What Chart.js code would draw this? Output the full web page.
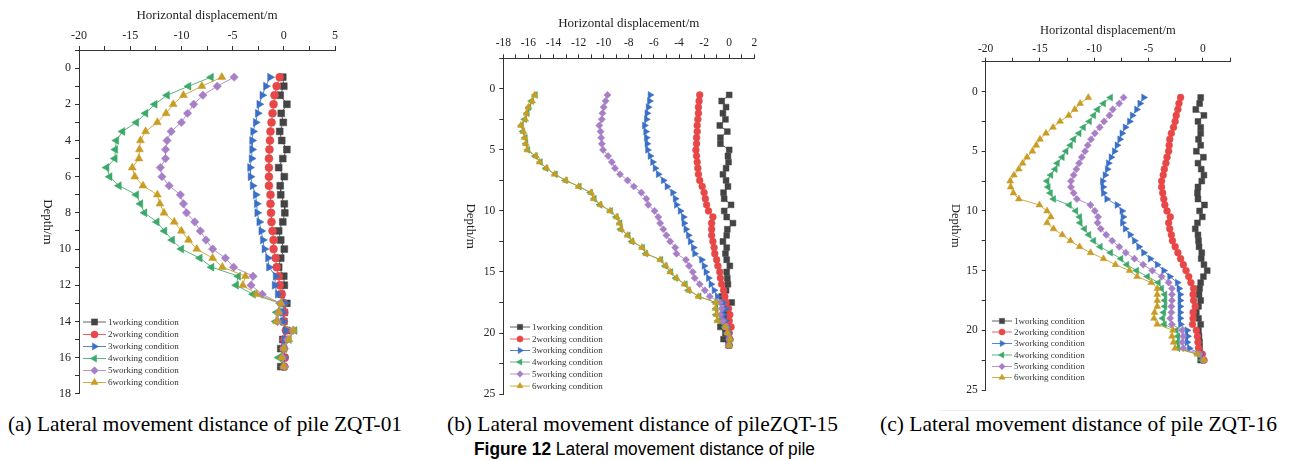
<!DOCTYPE html>
<html><head><meta charset="utf-8">
<script src="https://cdn.jsdelivr.net/npm/chart.js@4.4.1/dist/chart.umd.min.js"></script>
<style>
html,body{margin:0;padding:0;background:#fff;}
body{width:1290px;height:461px;overflow:hidden;position:relative;}
canvas{position:absolute;top:0;}
.cap{position:absolute;white-space:nowrap;transform-origin:0 50%;color:#000;}
.serif{font-family:"Liberation Serif","Times New Roman",serif;font-size:22px;line-height:22px;}
.sans{font-family:"Liberation Sans Narrow","Liberation Sans",Arial,sans-serif;font-size:18px;line-height:18px;}
</style></head><body>
<canvas id="ca" width="430" height="405" style="left:0px"></canvas>
<canvas id="cb" width="430" height="405" style="left:430px"></canvas>
<canvas id="cc" width="430" height="405" style="left:860px"></canvas>
<div style="position:absolute;left:940px;top:410px;width:303px;height:1px;background:#ececf0"></div>
<span class="cap serif" id="capA" style="left:8px;top:413px">(a) Lateral movement distance of pile ZQT-01</span>
<span class="cap serif" id="capB" style="left:447px;top:413px">(b) Lateral movement distance of pileZQT-15</span>
<span class="cap serif" id="capC" style="left:880px;top:413px">(c) Lateral movement distance of pile ZQT-16</span>
<span class="cap sans" id="capF" style="left:474px;top:440px"><b>Figure 12</b> Lateral movement distance of pile</span>
<script>
// ---------- data ----------
const seriesNames = ['1working condition','2working condition','3working condition','4working condition','5working condition','6working condition'];
const xTitle = 'Horizontal displacement/m';
const yTitle = 'Depth/m';

const depthA = [0.5,1,1.5,2,2.5,3,3.5,4,4.5,5,5.5,6,6.5,7,7.5,8,8.5,9,9.5,10,10.5,11,11.5,12,12.5,13,13.5,14,14.5,15,15.5,16,16.5];
const a1 = [-0.1,0,-0.35,0.3,-0.25,-0.05,-0.4,-0.2,0.3,-0.1,-0.5,0.05,-0.35,-0.3,0.05,0.1,-0.1,-0.5,-0.3,0.05,-0.3,-0.5,0,0.05,-0.25,0.3,0.05,0,0.3,-0.1,-0.3,0,-0.3];
const a2 = [-0.4,-0.7,-0.9,-1.0,-1.1,-1.2,-1.3,-1.35,-1.4,-1.45,-1.45,-1.45,-1.45,-1.3,-1.3,-1.25,-1.2,-1.1,-1.0,-1.0,-0.8,-0.7,-0.5,-0.4,-0.2,0,0.05,0,0.2,0.05,0,0.1,0.05];
const a3 = [-1.35,-1.75,-2.1,-2.4,-2.55,-2.75,-3.0,-3.1,-3.1,-3.15,-3.3,-3.25,-3.05,-2.75,-2.65,-2.6,-2.4,-2.2,-2.05,-1.9,-1.55,-1.45,-0.8,-0.9,-0.6,0.15,-0.1,-0.05,0.2,0.05,0,0.05,0.05];
const a4 = [-7.1,-9.3,-11.4,-12.6,-13.5,-14.4,-15.75,-16.35,-16.45,-16.5,-17.3,-17.0,-16.1,-14.4,-14.0,-13.6,-12.4,-11.65,-10.9,-10.0,-8.2,-7.05,-4.45,-4.65,-3.0,-0.35,-0.7,-0.8,1.05,0.5,0.05,-0.5,0];
const a5 = [-4.85,-6.5,-7.9,-8.8,-9.4,-10.0,-11.0,-11.4,-11.55,-11.55,-12.05,-11.9,-11.2,-10.1,-9.8,-9.5,-8.7,-8.15,-7.6,-6.95,-5.7,-4.9,-3.0,-3.2,-2.1,-0.35,-0.5,-0.6,0.9,0.35,0,-0.1,0.05];
const a6 = [-6.05,-8.0,-9.8,-10.8,-11.5,-12.35,-13.5,-14.0,-14.1,-14.15,-14.8,-14.55,-13.75,-12.35,-12.1,-11.7,-10.7,-10.0,-9.3,-8.5,-6.95,-6.0,-3.75,-4.0,-2.65,-0.25,-0.5,-0.7,0.95,0.5,0,-0.2,0];

const depthB = [0.5,1,1.5,2,2.5,3,3.5,4,4.5,5,5.5,6,6.5,7,7.5,8,8.5,9,9.5,10,10.5,11,11.5,12,12.5,13,13.5,14,14.5,15,15.5,16,16.5,17,17.5,18,18.5,19,19.5,20,20.5,21];
const b1 = [0,-0.6,-0.25,-0.5,-0.3,-0.75,-0.15,-0.7,-0.7,0,-0.1,-0.05,-0.25,-0.5,-0.25,-0.1,-0.45,-0.4,0.15,-0.4,-0.2,0.3,-0.15,-0.2,-0.5,-0.2,-0.3,-0.2,0.05,-0.2,-0.15,-0.1,-0.25,-0.6,0.2,-0.2,-0.35,-0.45,-0.7,-0.3,-0.45,-0.05];
const b2 = [-2.35,-2.4,-2.45,-2.45,-2.5,-2.55,-2.55,-2.6,-2.6,-2.65,-2.6,-2.55,-2.5,-2.45,-2.35,-2.15,-2.0,-1.9,-1.8,-1.65,-1.3,-1.4,-1.4,-1.4,-1.3,-1.2,-1.15,-1.0,-0.9,-0.75,-0.7,-0.6,-0.45,-0.35,-0.25,-0.05,0.05,0,0.15,0,0.05,0];
const b3 = [-6.3,-6.35,-6.45,-6.55,-6.6,-6.75,-6.65,-6.6,-6.55,-6.5,-6.3,-6.1,-5.9,-5.65,-5.25,-4.95,-4.5,-4.3,-4.2,-3.9,-3.65,-3.6,-3.45,-3.25,-3.1,-2.85,-2.75,-2.2,-2.0,-1.85,-1.65,-1.45,-1.2,-0.95,-0.5,-0.25,-0.45,-0.3,-0.15,-0.05,0.05,0];
const b4 = [-15.45,-15.75,-15.95,-16.1,-16.3,-16.55,-16.45,-16.25,-16.2,-16.05,-15.45,-15.05,-14.6,-13.85,-13.05,-11.95,-11.05,-10.75,-10.3,-9.45,-9.0,-8.7,-8.65,-8.05,-7.75,-6.9,-6.65,-5.45,-5.1,-4.65,-4.25,-3.5,-3.25,-2.4,-1.1,-1.05,-1.05,-0.9,-0.35,-0.1,0.05,0.05];
const b5 = [-9.7,-9.85,-10.0,-10.1,-10.15,-10.35,-10.25,-10.2,-10.15,-10.05,-9.65,-9.35,-9.1,-8.7,-8.1,-7.6,-7.0,-6.6,-6.45,-5.95,-5.65,-5.5,-5.25,-5.0,-4.7,-4.3,-4.2,-3.45,-3.2,-2.9,-2.75,-2.35,-1.95,-1.55,-0.75,-0.6,-0.7,-0.5,-0.25,-0.15,0,-0.05];
const b6 = [-15.5,-15.7,-16.0,-16.15,-16.25,-16.6,-16.4,-16.3,-16.2,-16.1,-15.4,-15.1,-14.55,-13.9,-13.0,-12.0,-11.0,-10.8,-10.25,-9.5,-8.95,-8.75,-8.6,-8.1,-7.7,-6.95,-6.6,-5.5,-5.05,-4.7,-4.2,-3.55,-3.2,-2.45,-1.05,-1.1,-1.0,-0.95,-0.3,-0.15,0.1,0];

const depthC = [0.5,1,1.5,2,2.5,3,3.5,4,4.5,5,5.5,6,6.5,7,7.5,8,8.5,9,9.5,10,10.5,11,11.5,12,12.5,13,13.5,14,14.5,15,15.5,16,16.5,17,17.5,18,18.5,19,19.5,20,20.5,21,21.5,22,22.5];
const c1 = [-0.2,-0.3,-0.65,0.1,-0.45,-0.2,-0.2,-0.4,-0.2,-0.6,0.05,-0.45,-0.15,0.1,-0.1,-0.45,-0.5,-0.45,0.15,-0.3,-0.05,-0.5,-0.7,-0.45,-0.4,-0.35,-0.1,-0.15,0.1,0.4,0.05,-0.2,-0.3,-0.35,-0.2,-0.4,-0.6,-0.4,-0.2,-0.4,-0.35,-0.3,-0.3,-0.2,-0.2];
const c2 = [-2.05,-2.2,-2.3,-2.45,-2.55,-2.7,-2.9,-3.05,-3.1,-3.15,-3.3,-3.4,-3.55,-3.65,-3.8,-3.8,-3.7,-3.6,-3.5,-3.3,-3.0,-3.15,-3.05,-2.9,-2.8,-2.55,-2.3,-2.05,-1.8,-1.55,-1.3,-1.1,-0.85,-0.9,-0.85,-0.7,-0.9,-0.9,-0.95,-0.6,-0.5,-0.45,-0.4,-0.05,0.1];
const c3 = [-5.45,-5.8,-6.1,-6.5,-6.75,-7.15,-7.45,-7.65,-7.9,-8.15,-8.45,-8.7,-8.8,-9.0,-9.25,-9.2,-9.15,-8.85,-7.9,-7.45,-7.35,-7.4,-7.15,-6.7,-6.3,-5.9,-5.45,-4.85,-4.2,-3.6,-3.05,-2.35,-2.2,-2.1,-2.1,-2.1,-2.1,-2.1,-2.05,-1.45,-1.4,-1.45,-1.25,-0.2,0.05];
const c4 = [-8.5,-9.15,-9.7,-10.05,-10.45,-11.0,-11.4,-11.9,-12.2,-12.6,-12.95,-13.4,-13.6,-14.0,-14.35,-14.25,-14.05,-13.75,-12.3,-11.7,-11.35,-11.3,-10.9,-10.5,-10.05,-9.45,-8.5,-7.55,-7.0,-6.1,-5.1,-4.1,-3.8,-3.5,-3.5,-3.5,-3.6,-3.7,-3.55,-2.45,-2.3,-2.35,-2.3,-0.5,-0.1];
const c5 = [-7.3,-7.7,-8.3,-8.6,-9.1,-9.5,-9.95,-10.3,-10.6,-10.85,-11.15,-11.4,-11.65,-11.9,-12.15,-12.15,-11.9,-11.6,-10.35,-9.95,-9.65,-9.7,-9.4,-8.9,-8.35,-7.7,-7.1,-6.3,-5.5,-4.65,-3.8,-3.15,-2.85,-2.85,-2.85,-2.9,-2.9,-3.0,-2.85,-1.9,-1.8,-1.9,-1.8,-0.3,0.05];
const c6 = [-10.55,-11.3,-11.8,-12.35,-13.15,-13.8,-14.45,-15.0,-15.35,-15.7,-16.2,-16.6,-16.95,-17.4,-17.75,-17.7,-17.45,-16.95,-15.05,-14.35,-14.0,-14.35,-13.75,-12.95,-12.2,-11.35,-10.35,-9.15,-8.05,-6.75,-6.05,-4.75,-4.2,-4.2,-4.2,-4.2,-4.45,-4.5,-4.2,-2.75,-2.85,-2.7,-2.55,-0.5,0.1];

// ---------- styles ----------
const markColors = ['#444444','#e84747','#3a6fc7','#3ca96a','#a67fc7','#c99c24'];
const lineColors = ['rgba(68,68,68,0.85)','rgba(232,71,71,0.85)','rgba(58,111,199,0.85)','rgba(60,169,106,0.85)','rgba(166,127,199,0.85)','rgba(201,156,36,0.85)'];
const markStyles = ['rect','circle','triangle','triangle','rectRot','triangle'];
const markRot = [0,0,90,-90,0,0];
const radMul = [1.15,0.95,1.1,1.1,1.0,1.1];

function drawMarker(ctx, style, rot, r, x, y){
  ctx.save();
  ctx.translate(x,y);
  ctx.rotate(rot*Math.PI/180);
  ctx.beginPath();
  if(style==='circle'){ ctx.arc(0,0,r,0,Math.PI*2); }
  else if(style==='rect'){ const s=r*Math.SQRT1_2; ctx.rect(-s,-s,2*s,2*s); }
  else if(style==='rectRot'){ const s=r*Math.SQRT1_2; ctx.rotate(Math.PI/4); ctx.rect(-s,-s,2*s,2*s); }
  else { ctx.moveTo(0,-r); ctx.lineTo(r*0.866,r*0.5); ctx.lineTo(-r*0.866,r*0.5); ctx.closePath(); }
  ctx.fill(); ctx.stroke();
  ctx.restore();
}

const deco = {
  id:'deco',
  afterDraw(chart, args, o){
    const ctx = chart.ctx, ca = chart.chartArea;
    ctx.save();
    ctx.fillStyle = '#222';
    ctx.font = o.titleSize + 'px "Liberation Serif"';
    ctx.textAlign = 'center'; ctx.textBaseline = 'middle';
    ctx.fillText(xTitle, (ca.left+ca.right)/2, o.xTitleY);
    ctx.save();
    ctx.translate(o.yTitleX, (ca.top+ca.bottom)/2);
    ctx.rotate(Math.PI/2);
    ctx.fillText(yTitle, 0, 0);
    ctx.restore();
    // legend
    ctx.font = '9px "Liberation Serif"';
    ctx.textAlign = 'left';
    chart.data.datasets.forEach((ds,i)=>{
      const y = o.legYs[i];
      ctx.strokeStyle = lineColors[i]; ctx.lineWidth = 1;
      ctx.beginPath(); ctx.moveTo(o.legX1, y); ctx.lineTo(o.legX2, y); ctx.stroke();
      ctx.fillStyle = markColors[i]; ctx.strokeStyle = markColors[i]; ctx.lineWidth = 0.5;
      drawMarker(ctx, markStyles[i], markRot[i], o.legR*radMul[i], (o.legX1+o.legX2)/2, y);
      ctx.fillStyle = '#333';
      ctx.fillText(ds.label, o.legX2 + 2, y + 0.5);
    });
    ctx.restore();
  }
};

function isMajor(v, m){ const q = v/m; return Math.abs(q-Math.round(q)) < 1e-6; }

function makeChart(id, depth, series, cfg){
  const datasets = series.map((vals,i)=>({
    label: seriesNames[i],
    data: vals.map((v,k)=>({x:v, y:depth[k]})),
    showLine: true,
    borderColor: lineColors[i],
    borderWidth: 1,
    backgroundColor: markColors[i],
    pointBackgroundColor: markColors[i],
    pointBorderColor: markColors[i],
    pointBorderWidth: 0.5,
    pointStyle: markStyles[i],
    pointRotation: markRot[i],
    pointRadius: cfg.r*radMul[i],
    order: 6-i
  }));
  const tickFont = {family:'"Liberation Serif"', size: cfg.tf};
  return new Chart(document.getElementById(id), {
    type:'scatter',
    data:{datasets},
    options:{
      responsive:false, animation:false, events:[],
      layout:{padding:{left:0, top:0, right:cfg.padR, bottom:cfg.padB}},
      plugins:{legend:{display:false}, tooltip:{enabled:false},
        deco:{xTitleY:cfg.xTitleY, yTitleX:cfg.yTitleX, titleSize:cfg.titleSize,
              legX1:cfg.legX1, legX2:cfg.legX2, legYs:cfg.legYs, legR:cfg.r*0.9}},
      scales:{
        x:{type:'linear', position:'top', min:cfg.xmin, max:cfg.xmax,
           ticks:{stepSize:cfg.xstep, autoSkip:false, maxRotation:0, minRotation:0, padding:cfg.xpad, color:'#222', font:tickFont,
                  callback:(v)=> isMajor(v,cfg.xmajor) ? String(Math.round(v)) : ''},
           grid:{drawOnChartArea:false, drawTicks:true, tickLength:4, tickColor:'#333', tickWidth:1},
           border:{color:'#333', width:1},
           afterFit(s){ s.height = cfg.top; }
        },
        y:{type:'linear', position:'left', reverse:true, min:cfg.ymin, max:cfg.ymax,
           ticks:{stepSize:cfg.ystep, autoSkip:false, padding:4, color:'#222', font:tickFont,
                  callback:(v)=> isMajor(v,cfg.ymajor) ? String(Math.round(v)) : ''},
           grid:{drawOnChartArea:false, drawTicks:true, tickLength:4, tickColor:'#333', tickWidth:1},
           border:{color:'#333', width:1},
           afterFit(s){ s.width = cfg.left; }
        }
      }
    },
    plugins:[deco]
  });
}

makeChart('ca', depthA, [a1,a2,a3,a4,a5,a6], {
  left:79, top:50, padR:95, padB:9,
  xmin:-20, xmax:5, xstep:2.5, xmajor:5,
  ymin:-1, ymax:18, ystep:1, ymajor:2,
  tf:12, titleSize:13, xpad:3, r:4.2,
  xTitleY:16, yTitleX:47,
  legX1:83, legX2:106, legYs:[322,334.5,346.5,358.5,370.5,382.5]
});
makeChart('cb', depthB, [b1,b2,b3,b4,b5,b6], {
  left:73.3, top:58.3, padR:105.7, padB:9,
  xmin:-18, xmax:2, xstep:1, xmajor:2,
  ymin:-2.5, ymax:25, ystep:2.5, ymajor:5,
  tf:11.5, titleSize:13, xpad:4, r:3.6,
  xTitleY:24, yTitleX:40.7,
  legX1:80, legX2:100, legYs:[327,339,350.5,362,374,386]
});
makeChart('cc', depthC, [c1,c2,c3,c4,c5,c6], {
  left:125.7, top:61.7, padR:60, padB:15,
  xmin:-20, xmax:2.5, xstep:2.5, xmajor:5,
  ymin:-2.5, ymax:25, ystep:2.5, ymajor:5,
  tf:11.5, titleSize:12.5, xpad:2, r:3.6,
  xTitleY:30.7, yTitleX:95,
  legX1:132, legX2:152, legYs:[321,332,343.5,355,366.5,377.5]
});

// fit captions to their widths in the reference
function fit(id, w){ const el=document.getElementById(id); const r=el.getBoundingClientRect().width; if(r>0) el.style.transform='scaleX('+(w/r)+')'; }
fit('capA', 394); fit('capB', 391); fit('capC', 397); fit('capF', 341);
</script>
</body></html>
